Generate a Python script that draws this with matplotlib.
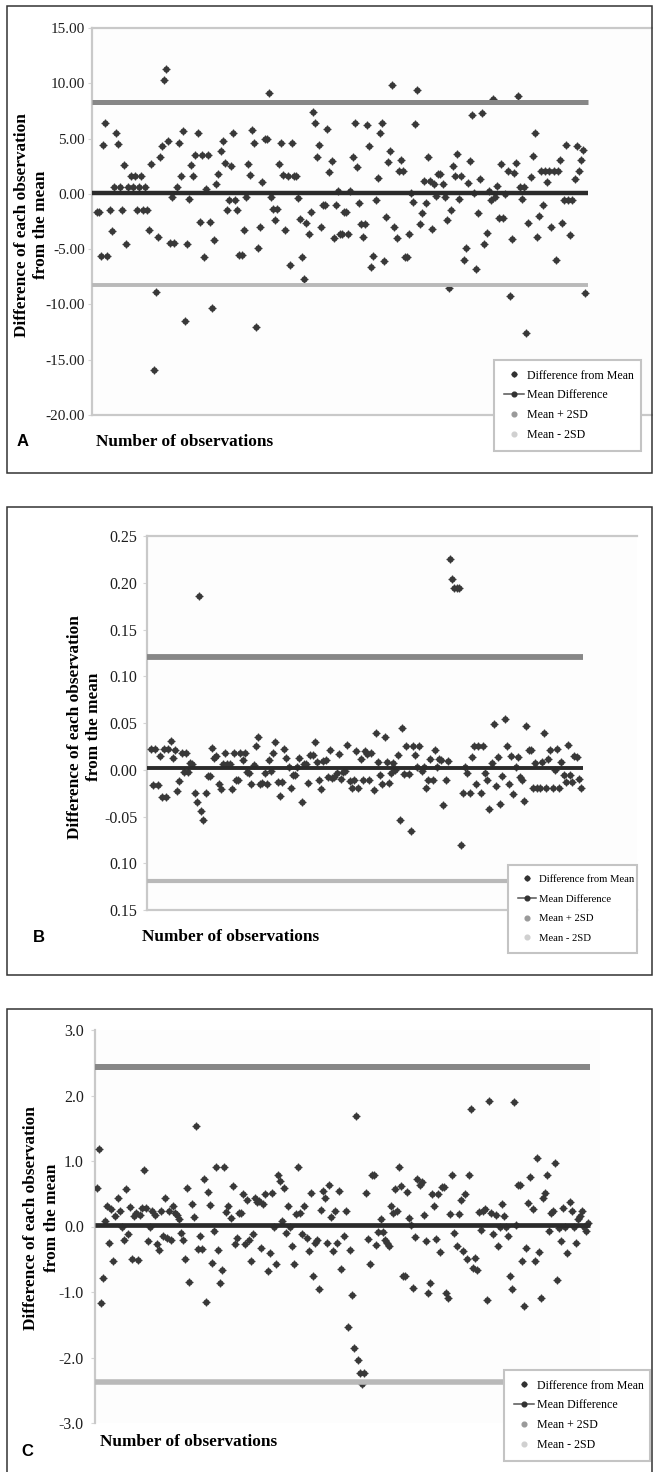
import numpy as np
import matplotlib.pyplot as plt
from matplotlib.lines import Line2D
from matplotlib.patches import Rectangle

plt.rcParams['font.family'] = ['Liberation Serif', 'DejaVu Serif']
plt.rcParams['axes.unicode_minus'] = False

# ---------------- data ----------------
diff_a = [
    -1.6, -1.6, -5.6, 4.4, 6.4, -5.6, -1.45, -3.4, 0.6, 5.5, 4.5, 0.6, -1.45, 2.6, -4.5,
    0.6, 1.6, 0.6, 1.6, -1.45, 0.6, 1.6, -1.45, 0.6, -1.45, -3.3, 2.7, -15.9, -8.9, -3.9,
    3.3, 4.3, 10.3, 11.3, 4.8, -4.4, -0.3, -4.4, 0.6, 4.6, 1.6, 5.7, -11.5, -4.5, -0.5,
    2.6, 1.6, 3.5, 5.5, -2.5, 3.5, -5.7, 0.4, 3.5, -2.5, -10.3, -4.2, 0.9, 1.8, 3.9,
    4.8, 2.8, -1.5, -0.6, 2.5, 5.5, -0.6, -1.5, -5.5, -5.5, -3.3, -0.3, 2.7, 1.7, 5.8,
    4.6, -12.0, -4.9, -3.0, 1.1, 5.0, 5.0, 9.1, -0.3, -1.4, -2.35, -1.4, 2.7, 4.6, 1.7,
    -3.3, 1.6, -6.4, 4.6, 1.6, 1.6, -0.4, -2.3, -5.7, -7.7, -2.6, -3.6, -1.6, 7.4, 6.4,
    3.3, 4.4, -3.0, -1.0, -1.0, 5.9, 2.0, 3.0, -4.0, -1.0, 0.3, -3.6, -3.6, -1.6, -1.6,
    -3.6, 0.3, 3.3, 6.4, 2.4, -0.8, -2.7, -3.9, -2.7, 6.2, 4.3, -6.6, -5.6, -0.6, 1.4,
    5.5, 6.4, -6.1, -2.1, 2.9, 3.9, 9.8, -3.0, -4.0,
    2.1, 3.1, 2.1, -5.7, -5.7, -3.6, 0.1, -0.7, 6.3, 9.4, -2.7, -1.7, 1.2, -0.8, 3.3,
    1.2, -3.2, 0.9, -0.2, 1.8, 1.8, 0.9, -0.3, -2.4, -8.5, -1.5, 2.5, 1.6, 3.6, -0.5,
    1.6, -6.0, -4.9, 1.0, 3.0, 7.1, 0.1, -6.8, -1.7, 1.3, 7.3, -4.5, -3.5, 0.3, -0.6,
    8.55, -0.3, 0.7, -2.2, 2.7, -2.2, 0.0, 2.1, -9.2, -4.1, 1.9, 2.8, 8.85, 0.6, -0.5,
    0.6, -12.6, -2.6, 1.5, 3.4, 5.5, -3.9, -2.0, 2.1, -1.0, 2.1, 1.1, 2.1, -3.0, 2.1,
    -6.0, 2.1, 3.1, -2.6, -0.6, 4.4, -0.6, -3.7, -0.6, 1.3, 4.3, 2.1, 3.1, 4.0, -9.0,
]
mean_a, upper_a, lower_a = 0.04, 8.3, -8.22
ticks_a = [-20, -15, -10, -5, 0, 5, 10, 15]
ticklabels_a = ['-20.00', '-15.00', '-10.00', '-5.00', '0.00', '5.00', '10.00', '15.00']

diff_b = [
    0.022, -0.016, 0.022, -0.016, 0.015, -0.029, 0.022, -0.029, 0.022, 0.031, 0.013,
    0.021, -0.023, -0.012, 0.018, -0.002, 0.018, -0.002, 0.007, 0.006, -0.025, -0.034,
    0.186, -0.044, -0.054, -0.025, -0.007, -0.007, 0.023, 0.013, 0.015, -0.015, -0.021,
    0.006, 0.018, 0.006, 0.006, -0.021, 0.018, -0.011, -0.011, 0.018, 0.010, 0.018,
    -0.002, -0.004, -0.015, 0.005, 0.025, 0.035, -0.015, -0.014, -0.004, -0.015, 0.010,
    -0.001, 0.018, 0.030, -0.013, -0.028, -0.013, 0.022, 0.013, 0.003, -0.019, -0.006,
    -0.006, 0.003, 0.013, -0.034, 0.006, 0.006, -0.014, 0.016, 0.016, 0.030, 0.008,
    -0.011, -0.021, 0.009, 0.010, -0.008, 0.021, -0.009, -0.008, -0.004, 0.017, -0.010,
    -0.002, -0.001, 0.027, -0.012, -0.019, -0.011, 0.020, -0.020, 0.011, -0.011, 0.020,
    0.017, -0.011, 0.018, -0.022, 0.039, 0.008, -0.006, -0.015, 0.035, 0.008, -0.014,
    -0.004, 0.007, 0.000, 0.016, -0.054, 0.045, -0.005, 0.025, -0.005, -0.065, 0.025,
    0.016, 0.003, 0.025, -0.001, 0.003, -0.020, -0.011, 0.011, -0.011, 0.021, 0.003,
    0.012, 0.010, -0.038, -0.011, 0.009, 0.225, 0.204, 0.194, 0.194, 0.194, -0.081,
    -0.025, 0.003, -0.004, -0.025, 0.014, 0.025, -0.015, 0.025, -0.025, 0.025, -0.004,
    -0.011, -0.042, 0.007, 0.049, -0.017, 0.014, -0.037, -0.007, 0.054, 0.025, -0.015,
    0.015, -0.026, 0.003, 0.014, -0.008, -0.011, -0.033, 0.047, 0.021, 0.021, -0.019,
    0.007, -0.020, -0.020, 0.008, 0.039, -0.020, 0.011, 0.021, -0.019, 0.000, 0.022,
    -0.019, 0.008, -0.006, -0.013, 0.027, -0.006, -0.013, 0.015, 0.014, -0.010, -0.019,
]
mean_b, upper_b, lower_b = 0.002, 0.121, -0.119
ticks_b = [-0.15, -0.10, -0.05, 0.0, 0.05, 0.10, 0.15, 0.20, 0.25]
ticklabels_b = ['0.15', '0.10', '-0.05', '0.00', '0.05', '0.10', '0.15', '0.20', '0.25']

diff_c = [
    0.59, 1.19, -1.17, -0.78, 0.08, 0.31, -0.25, 0.26, -0.53, 0.16, 0.44, 0.23, 0.0,
    -0.20, 0.58, -0.11, 0.30, -0.50, 0.16, 0.21, -0.51, 0.18, 0.28, 0.87, 0.28, -0.22,
    0.0, 0.23, 0.18, -0.26, -0.36, 0.23, -0.15, 0.44, -0.17, 0.23, -0.20, 0.32, 0.21,
    0.18, 0.11, -0.10, -0.20, -0.49, 0.59, -0.84, 0.35, 0.15, 1.53, -0.35, -0.14, -0.35,
    0.72, -1.16, 0.52, 0.33, -0.55, -0.07, 0.91, -0.36, -0.86, -0.67, 0.91, 0.22, 0.32,
    0.13, 0.62, -0.27, -0.17, 0.21, 0.21, 0.49, -0.27, 0.41, -0.20, -0.53, -0.12, 0.44,
    0.38, 0.39, -0.33, 0.35, 0.49, -0.68, -0.40, 0.51, 0.0, -0.58, 0.79, 0.69, 0.08,
    0.59, -0.10, 0.31, 0.0, -0.30, -0.58, 0.19, 0.91, 0.21, -0.12, 0.32, -0.17, -0.38,
    0.51, -0.76, -0.25, -0.20, -0.95, 0.25, 0.54, 0.44, -0.25, 0.63, 0.15, -0.38, 0.24,
    -0.25, 0.54, -0.65, -0.15, 0.24, -1.53, -0.36, -1.05, -1.85, 1.69, -2.04,
    -2.23, -2.41, -2.23, 0.51, -0.19, -0.57, 0.79, 0.79, -0.28, -0.09, 0.11, -0.09,
    -0.20, -0.25, -0.30, 0.31, 0.21, 0.57, 0.24, 0.91, 0.62, -0.76, -0.76, 0.52, 0.13,
    0.03, -0.94, -0.16, 0.73, 0.63, 0.68, 0.17, -0.22, -1.01, -0.86, 0.49, 0.31, -0.19,
    0.49, -0.39, 0.60, 0.60, -1.01, -1.09, 0.19, 0.78, -0.10, -0.30, 0.19, 0.40, -0.38,
    0.49, -0.49, 0.79, 1.80, -0.63, -0.48, -0.66, 0.22, -0.05, 0.23, 0.26, -1.12, 1.92,
    0.21, -0.12, 0.18, -0.30, 0.0, 0.35, 0.16, 0.0, -0.15, -0.76, -0.96, 1.90, 0.03,
    0.63, 0.63, -0.53, -1.22, -0.33, 0.36, 0.75, 0.26, -0.53, 1.04, -0.39, -1.09, 0.44,
    0.51, 0.79, -0.07, 0.21, 0.24, 0.97, -0.81, -0.02, -0.22, 0.29, 0.0, -0.40, 0.37,
    0.24, 0.0, -0.25, 0.11, 0.16, 0.24, 0.0, -0.07, 0.06,
]
mean_c, upper_c, lower_c = 0.03, 2.43, -2.37
ticks_c = [-3, -2, -1, 0, 1, 2, 3]
ticklabels_c = ['-3.0', '-2.0', '-1.0', '0.0', '1.0', '2.0', '3.0']

legend_labels = ['Difference from Mean', 'Mean Difference', 'Mean + 2SD', 'Mean - 2SD']
xlabel = 'Number of observations'
ylabel_lines = ['Difference of each observation', 'from the mean']

# ---------------- figure ----------------
W, H = 653, 1472
fig = plt.figure(figsize=(W / 100, H / 100), dpi=100)


def fx(x):
    return x / W


def fy(y):
    return 1 - y / H


def panel(diff, mean, upper, lower, ticks, labels, box, pts, line_end,
          spines, frame, letter, letter_xy, xlab_xy, ylab_x, ylab_y, leg_box, leg_fs,
          leg_space, leg_pad, lws, pad, tick_fs):
    left, top, right, bottom = box
    ax = fig.add_axes([fx(left), fy(bottom), (right - left) / W, (bottom - top) / H])
    ax.set_facecolor('#fdfdfd')
    n = len(diff)
    obs = np.arange(1, n + 1)
    step = (pts[1] - pts[0]) / (n - 1)
    x0 = 1 - (pts[0] - left) / step
    ax.set_xlim(x0, n + (right - pts[1]) / step)
    ax.set_ylim(ticks[0], ticks[-1])
    xe = n + (line_end - pts[1]) / step

    # observations
    ax.plot(obs, diff, ls='none', marker='o', ms=3.5, color='#383838', zorder=3)
    ax.plot(obs, diff, ls='none', marker='+', ms=5.2, mew=0.9, color='#383838', zorder=3)
    # mean and limits
    ax.plot([x0, xe], [upper, upper], color='#878787', lw=lws[1], solid_capstyle='butt', zorder=4)
    ax.plot([x0, xe], [lower, lower], color='#b9b9b9', lw=lws[2], solid_capstyle='butt', zorder=4)
    ax.plot([x0, xe], [mean, mean], color='#2b2b2b', lw=lws[0], solid_capstyle='butt', zorder=4)

    for s in ['top', 'bottom', 'right', 'left']:
        ax.spines[s].set_visible(s in spines)
        ax.spines[s].set_color('#c9c9c9')
        ax.spines[s].set_linewidth(1.6)
    ax.set_xticks([])
    ax.set_yticks(ticks)
    ax.set_yticklabels(labels)
    ax.tick_params(axis='y', length=3, color='#d5d5d5', labelsize=tick_fs, pad=pad,
                   labelcolor='#1e1e1e')

    handles = [
        (Line2D([], [], ls='none', marker='o', ms=3.2, color='#333333'),
         Line2D([], [], ls='none', marker='+', ms=5, mew=0.9, color='#333333')),
        Line2D([], [], color='#555555', lw=1.1, marker='o', ms=3.4, mfc='#333333', mec='#333333'),
        Line2D([], [], ls='none', marker='o', ms=3.4, color='#9a9a9a'),
        Line2D([], [], ls='none', marker='o', ms=3.4, color='#d0d0d0'),
    ]
    lx0, ly0, lx1, ly1 = leg_box
    leg = ax.legend(handles, legend_labels, loc='upper left',
                    bbox_to_anchor=(fx(lx0), fy(ly1), (lx1 - lx0) / W, (ly1 - ly0) / H),
                    bbox_transform=fig.transFigure, mode='expand', borderaxespad=0,
                    fontsize=leg_fs, fancybox=False, framealpha=1, edgecolor='#c4c4c4',
                    labelspacing=leg_space, handlelength=1.7, handletextpad=0.3,
                    borderpad=leg_pad)
    leg.get_frame().set_linewidth(1.5)
    leg.set_zorder(10)

    fig.add_artist(Rectangle((fx(7), fy(frame[1])), (652 - 7) / W, (frame[1] - frame[0]) / H,
                             transform=fig.transFigure, fill=False, ec='#333333', lw=1.1))
    fig.text(fx(letter_xy[0]), fy(letter_xy[1]), letter, family=['Liberation Sans', 'DejaVu Sans'],
             weight='bold', fontsize=12, ha='left', va='center')
    fig.text(fx(xlab_xy[0]), fy(xlab_xy[1]), xlabel, weight='bold', fontsize=12.4,
             ha='left', va='center')
    for line, x in zip(ylabel_lines, ylab_x):
        fig.text(fx(x), fy(ylab_y), line, weight='bold', fontsize=12.4,
                 rotation=90, ha='center', va='center')
    return ax


panel(diff_a, mean_a, upper_a, lower_a, ticks_a, ticklabels_a,
      box=(92, 28, 652, 415), pts=(97, 585), line_end=588,
      spines=['left', 'top', 'bottom'], frame=(6, 473),
      letter='A', letter_xy=(17, 442), xlab_xy=(96, 442), ylab_x=(22, 41), ylab_y=225,
      leg_box=(494, 360, 641, 447), leg_fs=8.6, leg_space=0.66, leg_pad=0.8,
      lws=(3.2, 3.6, 2.8), pad=2, tick_fs=11)

panel(diff_b, mean_b, upper_b, lower_b, ticks_b, ticklabels_b,
      box=(147, 536, 637, 910), pts=(151, 581), line_end=583,
      spines=['left', 'top', 'bottom'], frame=(507, 975),
      letter='B', letter_xy=(33, 937), xlab_xy=(142, 937), ylab_x=(75, 94), ylab_y=727,
      leg_box=(508, 865, 637, 948), leg_fs=7.7, leg_space=0.95, leg_pad=0.9,
      lws=(2.8, 4.2, 3.0), pad=4, tick_fs=11.5)

panel(diff_c, mean_c, upper_c, lower_c, ticks_c, ticklabels_c,
      box=(95, 1030, 600, 1423), pts=(97, 588), line_end=590,
      spines=['left'], frame=(1009, 1490),
      letter='C', letter_xy=(21, 1452), xlab_xy=(100, 1442), ylab_x=(31, 52), ylab_y=1218,
      leg_box=(504, 1370, 650, 1458), leg_fs=8.6, leg_space=0.66, leg_pad=0.8,
      lws=(3.4, 4.3, 4.0), pad=5, tick_fs=11.5)

fig.savefig('out.png', dpi=100)
